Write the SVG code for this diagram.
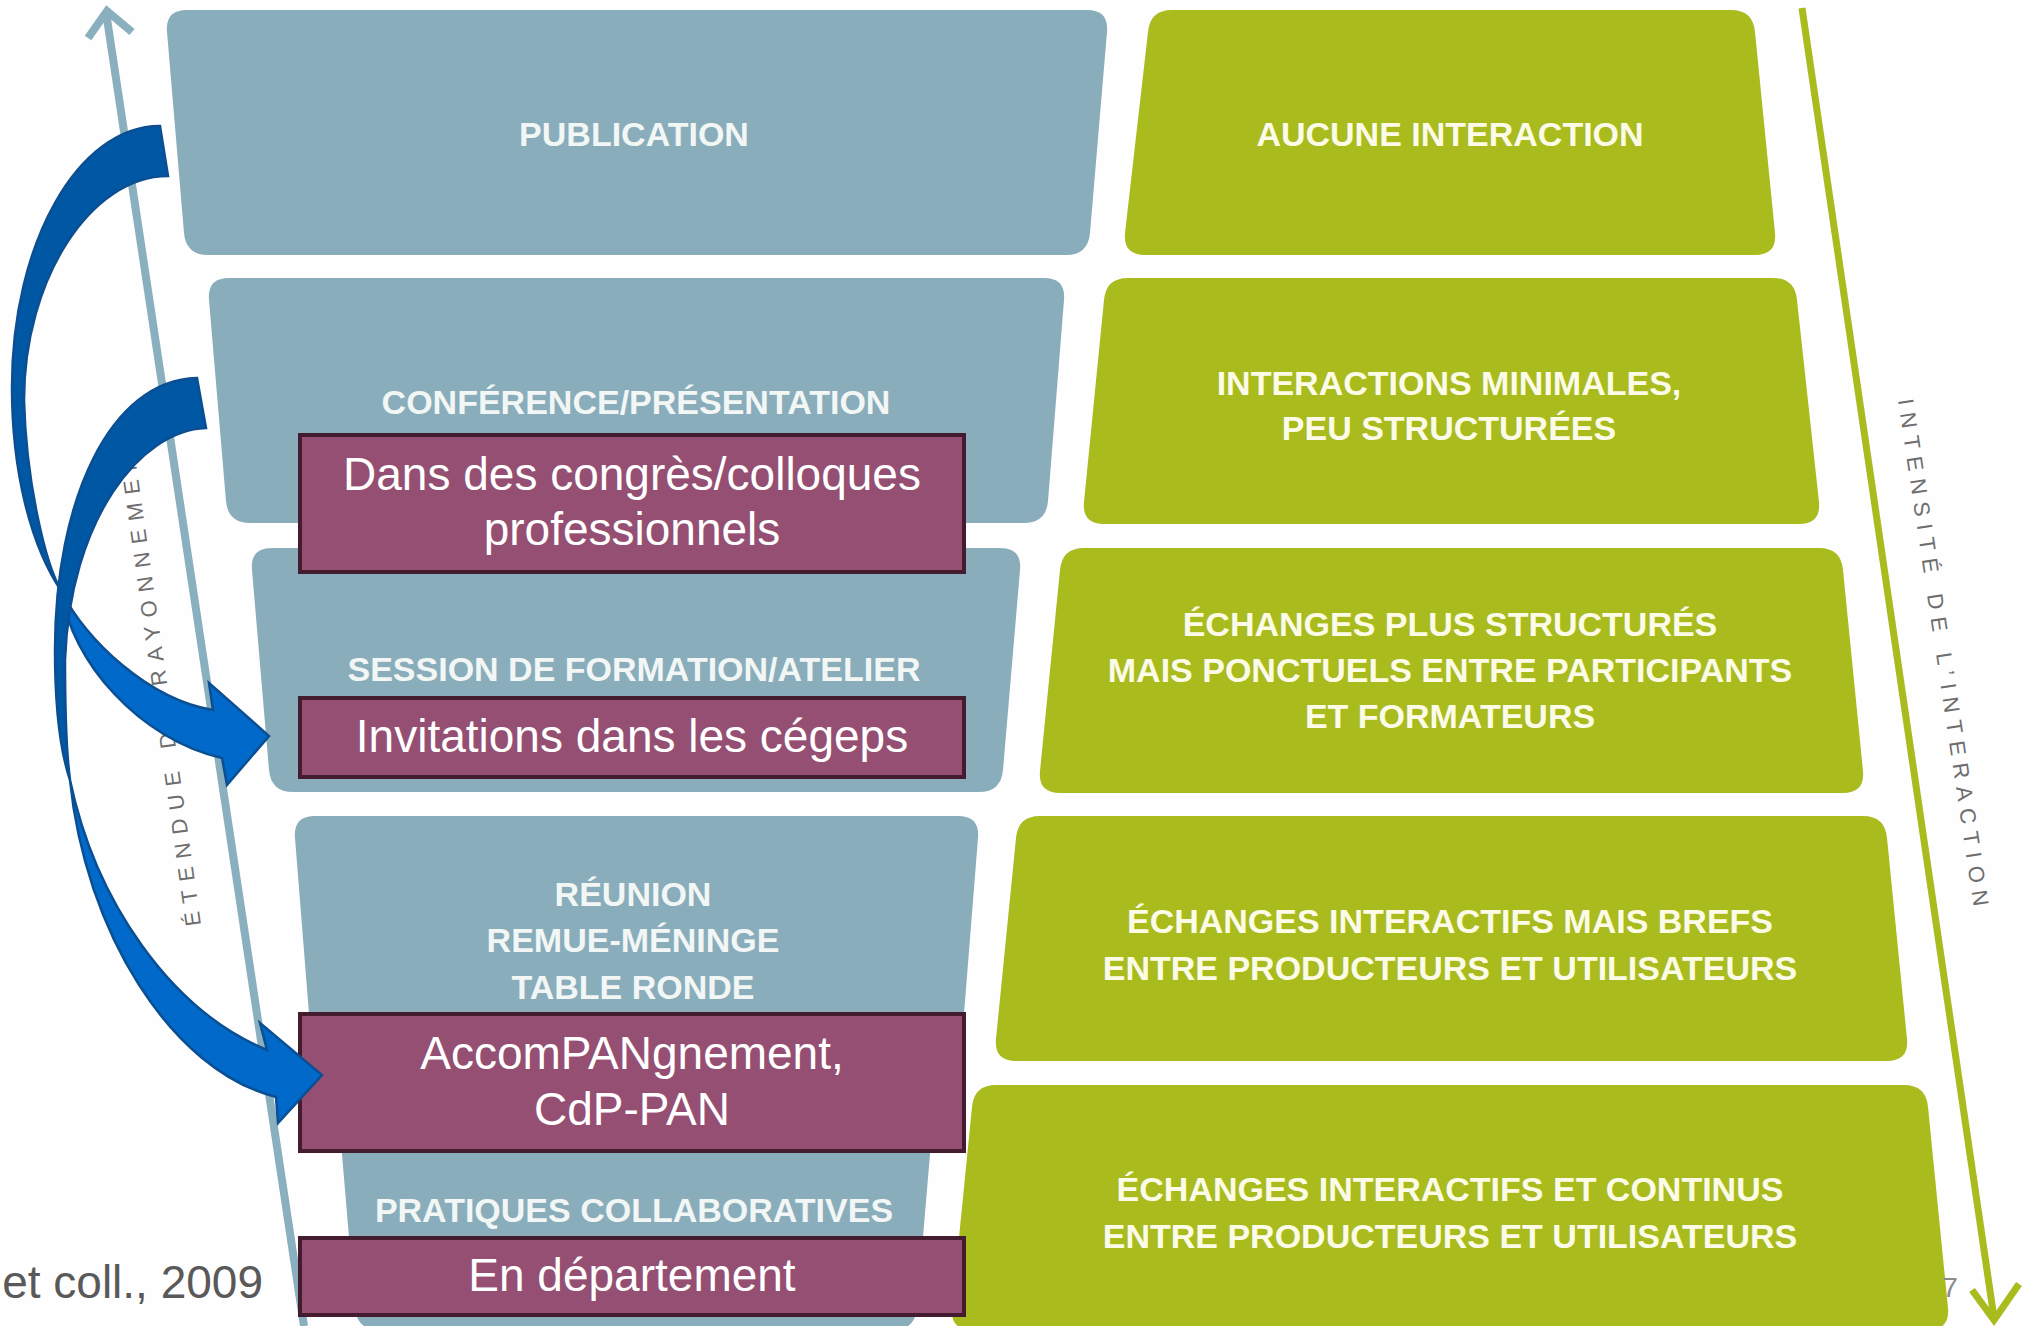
<svg xmlns="http://www.w3.org/2000/svg" width="2023" height="1326" viewBox="0 0 2023 1326">
<style>
.bl{fill:#89adbb}
.gr{fill:#a9bb1d}
.bt{font-family:"Liberation Sans",Arial,sans-serif;font-weight:bold;font-size:34px;fill:#f2f6f4;text-anchor:middle}
.gt{font-family:"Liberation Sans",Arial,sans-serif;font-weight:bold;font-size:34px;fill:#fbfbe8;text-anchor:middle}
.pb{fill:#954f72;stroke:#431d2f;stroke-width:4}
.pt{font-family:"Liberation Sans",Arial,sans-serif;font-size:46px;fill:#ffffff;text-anchor:middle}
.ax{font-family:"Liberation Sans",Arial,sans-serif;font-size:22px;fill:#6e6e6e;letter-spacing:8.5px}
.back{fill:#0057a4;stroke:#0b4f92;stroke-width:2.5;stroke-linejoin:miter}
.front{fill:#0069c9;stroke:#0b4f92;stroke-width:2.5;stroke-linejoin:miter}
</style>
<rect x="0" y="0" width="2023" height="1326" fill="#fefefe"/>

<g id="axis-left">
<line x1="106" y1="12" x2="304" y2="1326" stroke="#8aafbe" stroke-width="8"/>
<polyline points="88,38 107,11 132,32" fill="none" stroke="#8aafbe" stroke-width="8"/>
<text class="ax" transform="translate(201,925) rotate(-98)">ÉTENDUE DU RAYONNEMENT</text>
</g>
<g id="axis-right">
<line x1="1802" y1="8" x2="1994" y2="1318" stroke="#a9bb1d" stroke-width="7"/>
<polyline points="1972,1290 1994,1320 2019,1284" fill="none" stroke="#a9bb1d" stroke-width="7"/>
<text class="ax" style="letter-spacing:7.6px" transform="translate(1898,400) rotate(81.5)">INTENSITÉ DE L’INTERACTION</text>
</g>

<g id="publication">
<path class="bl" d="M187,10 L1087,10 Q1109,10 1107,32 L1090,233 Q1088,255 1066,255 L208,255 Q186,255 184,233 L167,32 Q165,10 187,10 Z"/>
<text class="bt" x="634" y="146">PUBLICATION</text>
</g>
<g id="conference">
<path class="bl" d="M229,278 L1044,278 Q1066,278 1064,300 L1048,501 Q1046,523 1024,523 L250,523 Q228,523 226,501 L209,300 Q207,278 229,278 Z"/>
<text class="bt" x="636" y="414">CONFÉRENCE/PRÉSENTATION</text>
</g>
<g id="session">
<path class="bl" d="M272,548 L1000,548 Q1022,548 1020,570 L1003,770 Q1001,792 979,792 L293,792 Q271,792 269,770 L252,570 Q250,548 272,548 Z"/>
<text class="bt" x="634" y="681">SESSION DE FORMATION/ATELIER</text>
</g>
<g id="reunion">
<path class="bl" d="M315,816 L958,816 Q980,816 978,838 L962,1039 Q960,1061 938,1061 L335,1061 Q313,1061 311,1039 L295,838 Q293,816 315,816 Z"/>
<text class="bt" x="633" y="906">RÉUNION</text>
<text class="bt" x="633" y="952">REMUE-MÉNINGE</text>
<text class="bt" x="633" y="999">TABLE RONDE</text>
</g>
<g id="pratiques">
<path class="bl" d="M358,1085 L914,1085 Q936,1085 934,1107 L917,1308 Q915,1330 893,1330 L379,1330 Q357,1330 355,1308 L338,1107 Q336,1085 358,1085 Z"/>
<text class="bt" x="634" y="1222">PRATIQUES COLLABORATIVES</text>
</g>

<g id="aucune">
<path class="gr" d="M1172,10 L1731,10 Q1753,10 1755,32 L1775,233 Q1777,255 1755,255 L1145,255 Q1123,255 1125,233 L1148,32 Q1150,10 1172,10 Z"/>
<text class="gt" x="1450" y="146">AUCUNE INTERACTION</text>
</g>
<g id="minimales">
<path class="gr" d="M1128,278 L1773,278 Q1795,278 1797,300 L1819,502 Q1821,524 1799,524 L1104,524 Q1082,524 1084,502 L1104,300 Q1106,278 1128,278 Z"/>
<text class="gt" x="1449" y="395">INTERACTIONS MINIMALES,</text>
<text class="gt" x="1449" y="440">PEU STRUCTURÉES</text>
</g>
<g id="structures">
<path class="gr" d="M1084,548 L1819,548 Q1841,548 1843,570 L1863,771 Q1865,793 1843,793 L1060,793 Q1038,793 1040,771 L1060,570 Q1062,548 1084,548 Z"/>
<text class="gt" x="1450" y="636">ÉCHANGES PLUS STRUCTURÉS</text>
<text class="gt" x="1450" y="682">MAIS PONCTUELS ENTRE PARTICIPANTS</text>
<text class="gt" x="1450" y="728">ET FORMATEURS</text>
</g>
<g id="brefs">
<path class="gr" d="M1040,816 L1863,816 Q1885,816 1887,838 L1907,1039 Q1909,1061 1887,1061 L1016,1061 Q994,1061 996,1039 L1016,838 Q1018,816 1040,816 Z"/>
<text class="gt" x="1450" y="933">ÉCHANGES INTERACTIFS MAIS BREFS</text>
<text class="gt" x="1450" y="980">ENTRE PRODUCTEURS ET UTILISATEURS</text>
</g>
<g id="continus">
<path class="gr" d="M996,1085 L1904,1085 Q1926,1085 1928,1107 L1948,1308 Q1950,1330 1928,1330 L972,1330 Q950,1330 952,1308 L972,1107 Q974,1085 996,1085 Z"/>
<text class="gt" x="1450" y="1201">ÉCHANGES INTERACTIFS ET CONTINUS</text>
<text class="gt" x="1450" y="1248">ENTRE PRODUCTEURS ET UTILISATEURS</text>
</g>

<g id="congres">
<rect class="pb" x="300" y="435" width="664" height="137"/>
<text class="pt" x="632" y="490">Dans des congrès/colloques</text>
<text class="pt" x="632" y="545">professionnels</text>
</g>
<g id="invitations">
<rect class="pb" x="300" y="698" width="664" height="79"/>
<text class="pt" x="632" y="752">Invitations dans les cégeps</text>
</g>
<g id="accompagnement">
<rect class="pb" x="300" y="1014" width="664" height="137"/>
<text class="pt" x="632" y="1069">AccomPANgnement,</text>
<text class="pt" x="632" y="1125">CdP-PAN</text>
</g>
<g id="departement">
<rect class="pb" x="300" y="1238" width="664" height="77"/>
<text class="pt" x="632" y="1291">En département</text>
</g>

<text x="263" y="1298" font-family="'Liberation Sans',Arial,sans-serif" font-size="46" fill="#595959" text-anchor="end">et coll., 2009</text>
<text x="1950" y="1297" font-family="'Liberation Sans',Arial,sans-serif" font-size="28" fill="#8c8c8c" text-anchor="middle">7</text>

<g id="connectors">
<g id="arrow-publication-invitations">
<path class="back" d="M160,126 C78,126 12,243 12,387 C12,470 30,545 62,592 C45,565 26,480 24,400 C24,280 90,176 168,176 Z"/>
<path class="front" d="M62,592 C85,640 150,700 213,710 L209,683 L269,736 L227,785 L222,758 C140,740 70,660 62,592 Z"/>
</g>
<g id="arrow-conference-accompagnement">
<path class="back" d="M197,378 C110,380 55,500 55,650 C55,710 60,750 70,780 C66,750 65,700 65,660 C70,520 140,430 206,428 Z"/>
<path class="front" d="M70,780 C95,900 170,1010 267,1050 L260,1023 L322,1075 L278,1123 L276,1097 C170,1070 85,930 70,780 Z"/>
</g>
</g>
</svg>
